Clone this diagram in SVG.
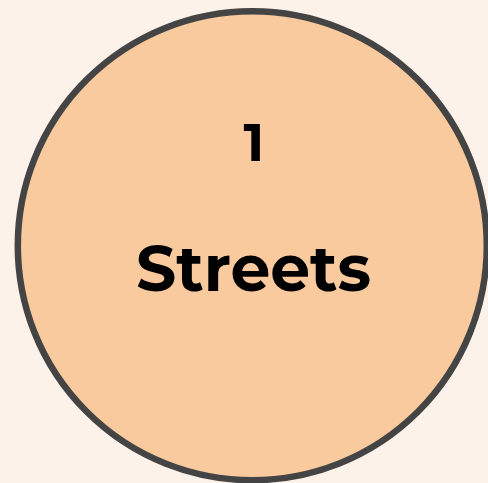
<svg xmlns="http://www.w3.org/2000/svg" width="488" height="483" viewBox="0 0 488 483">
<style>
.t{font-family:"Montserrat","Inter","Liberation Sans",sans-serif;font-weight:700;fill:#000;text-anchor:middle}
</style>
<rect width="488" height="483" fill="#fdf2e9"/>
<g id="node1">
<circle cx="252.3" cy="245.7" r="234.5" fill="#f8ca9d" stroke="#444444" stroke-width="6.5"/>
<text class="t" x="254" y="161" font-size="53">1</text>
<text class="t" x="253.5" y="291" font-size="64" textLength="235" lengthAdjust="spacingAndGlyphs">Streets</text>
</g>
</svg>
